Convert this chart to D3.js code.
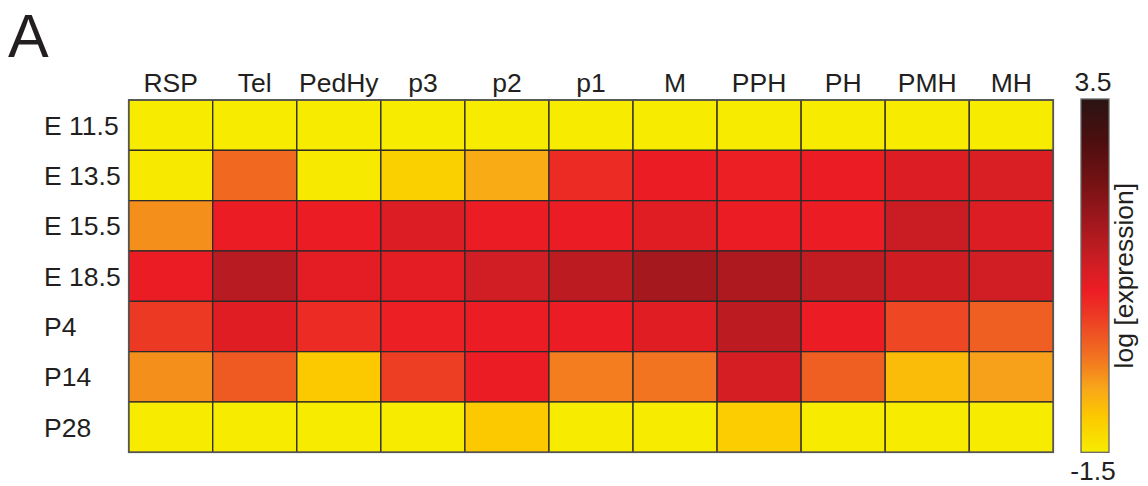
<!DOCTYPE html>
<html>
<head>
<meta charset="utf-8">
<script src="https://cdn.jsdelivr.net/npm/d3@7"></script>
<style>
  html, body { margin: 0; padding: 0; background: #fff; }
  svg { display: block; font-family: "Liberation Sans", Arial, sans-serif; }
</style>
</head>
<body>
<svg id="chart" width="1148" height="486"></svg>
<script>
'use strict';

// brain regions (columns)
const regions = ['RSP', 'Tel', 'PedHy', 'p3', 'p2', 'p1', 'M', 'PPH', 'PH', 'PMH', 'MH'];

// developmental stages (rows)
const stages = ['E 11.5', 'E 13.5', 'E 15.5', 'E 18.5', 'P4', 'P14', 'P28'];

// log expression per stage, one value per region
const e115 = [-1.5, -1.5, -1.5, -1.5, -1.5, -1.5, -1.5, -1.5, -1.5, -1.5, -1.5];
const e135 = [-1.45, -0.05, -1.45, -1.1, -0.65, 0.6, 0.8, 0.75, 0.8, 1.0, 1.05];
const e155 = [-0.4, 0.8, 0.8, 1.0, 0.8, 0.8, 0.95, 0.8, 0.8, 1.25, 1.0];
const e185 = [0.8, 1.45, 0.9, 0.9, 1.15, 1.4, 1.7, 1.6, 1.35, 1.2, 1.15];
const p4 = [0.45, 0.95, 0.6, 0.75, 0.8, 0.8, 0.95, 1.4, 0.8, 0.3, 0.05];
const p14 = [-0.4, 0.1, -1.0, 0.4, 0.8, -0.25, -0.15, 1.1, 0.05, -0.85, -0.55];
const p28 = [-1.5, -1.5, -1.5, -1.5, -1.0, -1.5, -1.5, -1.05, -1.5, -1.5, -1.5];

const rows = [e115, e135, e155, e185, p4, p14, p28];

// colour bar range and its labels
const colorDomain = [-1.5, 3.5];
const colorTicks = [-1.5, 3.5];

// colour map stops (value -> colour)
const stopValues = [-1.5, -1.0, -0.6, -0.25, 0.1, 0.5, 0.8, 1.1, 1.4, 1.7, 2.3, 2.9, 3.5];
const stopColors = ['#f7ec00', '#fcc900', '#f8a719', '#f37d1f', '#ef5a23', '#ec3424', '#ec1c24',
                    '#d51e24', '#bc1c21', '#a5181e', '#761214', '#4d0e0f', '#2a1414'];

const color = d3.scaleLinear()
  .domain(stopValues)
  .range(stopColors)
  .interpolate(d3.interpolateRgb)
  .clamp(true);

// flatten into cells
const cells = [];
rows.forEach((vals, i) => {
  vals.forEach((v, j) => {
    cells.push({stage: stages[i], region: regions[j], value: v});
  });
});

const svg = d3.select('#chart');

const x = d3.scaleBand().domain(regions).range([128.7, 1053.3]);
const y = d3.scaleBand().domain(stages).range([100, 452.3]);

// panel letter
svg.append('text')
  .attr('x', 8)
  .attr('y', 57)
  .attr('font-size', 61)
  .attr('fill', '#231f20')
  .text('A');

// heatmap cells
svg.append('g')
  .selectAll('rect')
  .data(cells)
  .enter()
  .append('rect')
  .attr('x', d => x(d.region))
  .attr('y', d => y(d.stage))
  .attr('width', x.bandwidth())
  .attr('height', y.bandwidth())
  .attr('fill', d => color(d.value))
  .attr('stroke', '#2f2a2a')
  .attr('stroke-width', 1.3);

// outer frame
svg.append('rect')
  .attr('x', x.range()[0])
  .attr('y', y.range()[0])
  .attr('width', x.range()[1] - x.range()[0])
  .attr('height', y.range()[1] - y.range()[0])
  .attr('fill', 'none')
  .attr('stroke', '#555')
  .attr('stroke-width', 1.6);

// column labels
svg.append('g')
  .selectAll('text')
  .data(regions)
  .enter()
  .append('text')
  .attr('x', d => x(d) + x.bandwidth() / 2)
  .attr('y', 92)
  .attr('text-anchor', 'middle')
  .attr('font-size', 26.5)
  .attr('fill', '#231f20')
  .text(d => d);

// row labels
svg.append('g')
  .selectAll('text')
  .data(stages)
  .enter()
  .append('text')
  .attr('x', 44)
  .attr('y', d => y(d) + y.bandwidth() / 2 + 9.5)
  .attr('font-size', 26.5)
  .attr('fill', '#231f20')
  .text(d => d);

// colour bar
const barX = 1081;
const barW = 28;
const cy = d3.scaleLinear().domain(colorDomain).range([452.3, 99]);

const grad = svg.append('defs')
  .append('linearGradient')
  .attr('id', 'cbar')
  .attr('x1', 0).attr('y1', 1)
  .attr('x2', 0).attr('y2', 0);

grad.selectAll('stop')
  .data(stopValues)
  .enter()
  .append('stop')
  .attr('offset', v => (v - colorDomain[0]) / (colorDomain[1] - colorDomain[0]))
  .attr('stop-color', v => color(v));

svg.append('rect')
  .attr('x', barX)
  .attr('y', cy(colorDomain[1]))
  .attr('width', barW)
  .attr('height', cy(colorDomain[0]) - cy(colorDomain[1]))
  .attr('fill', 'url(#cbar)')
  .attr('stroke', '#666')
  .attr('stroke-width', 1.3);

svg.append('g')
  .selectAll('text')
  .data(colorTicks)
  .enter()
  .append('text')
  .attr('x', barX + barW / 2 - 2)
  .attr('y', v => v === colorDomain[1] ? cy(v) - 8 : cy(v) + 28)
  .attr('text-anchor', 'middle')
  .attr('font-size', 26.5)
  .attr('fill', '#231f20')
  .text(v => v.toFixed(1));

svg.append('text')
  .attr('transform', `translate(1133, ${(cy(colorDomain[0]) + cy(colorDomain[1])) / 2}) rotate(-90)`)
  .attr('text-anchor', 'middle')
  .attr('font-size', 26.5)
  .attr('fill', '#231f20')
  .text('log [expression]');
</script>
</body>
</html>
